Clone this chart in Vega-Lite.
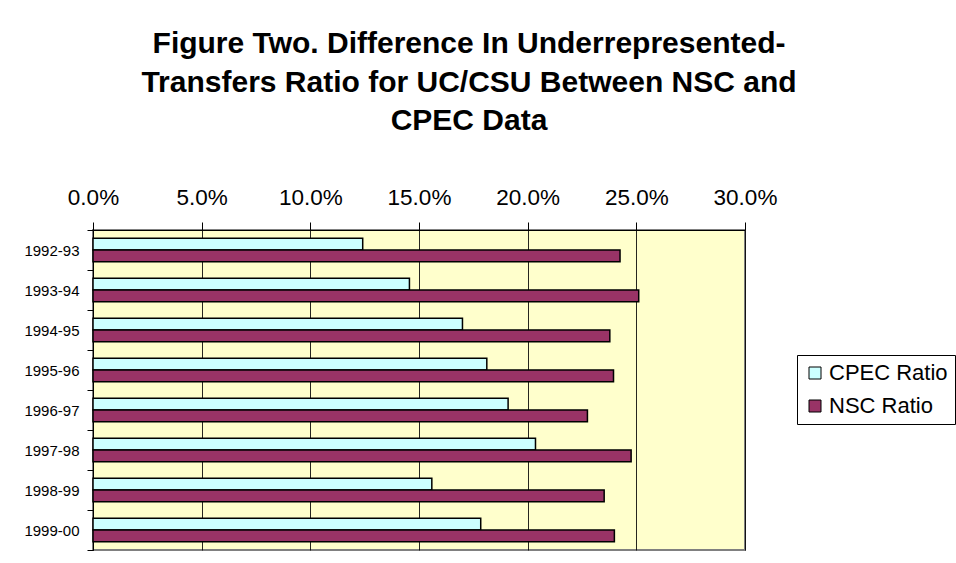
{
  "$schema": "https://vega.github.io/schema/vega-lite/v6.json",
  "width": 652,
  "height": 320,
  "autosize": {"type": "none"},
  "padding": {"left": 93, "top": 230, "right": 211, "bottom": 13},
  "background": "white",
  "title": {
    "text": ["Figure Two. Difference In Underrepresented-", "Transfers Ratio for UC/CSU Between NSC and", "CPEC Data"],
    "font": "Liberation Sans",
    "fontSize": 30,
    "fontWeight": "bold",
    "lineHeight": 38.4,
    "color": "black",
    "anchor": "middle",
    "dx": 50,
    "offset": 50
  },
  "data": {
    "values": [
      {"year": "1992-93", "series": "CPEC Ratio", "value": 0.1241},
      {"year": "1992-93", "series": "NSC Ratio", "value": 0.2425},
      {"year": "1993-94", "series": "CPEC Ratio", "value": 0.1456},
      {"year": "1993-94", "series": "NSC Ratio", "value": 0.2511},
      {"year": "1994-95", "series": "CPEC Ratio", "value": 0.1700},
      {"year": "1994-95", "series": "NSC Ratio", "value": 0.2378},
      {"year": "1995-96", "series": "CPEC Ratio", "value": 0.1812},
      {"year": "1995-96", "series": "NSC Ratio", "value": 0.2395},
      {"year": "1996-97", "series": "CPEC Ratio", "value": 0.1910},
      {"year": "1996-97", "series": "NSC Ratio", "value": 0.2275},
      {"year": "1997-98", "series": "CPEC Ratio", "value": 0.2036},
      {"year": "1997-98", "series": "NSC Ratio", "value": 0.2476},
      {"year": "1998-99", "series": "CPEC Ratio", "value": 0.1559},
      {"year": "1998-99", "series": "NSC Ratio", "value": 0.2352},
      {"year": "1999-00", "series": "CPEC Ratio", "value": 0.1784},
      {"year": "1999-00", "series": "NSC Ratio", "value": 0.2399}
    ]
  },
  "mark": {"type": "bar", "stroke": "black", "strokeWidth": 1.5, "opacity": 1},
  "encoding": {
    "y": {
      "field": "year",
      "type": "nominal",
      "sort": null,
      "scale": {"paddingInner": 0, "paddingOuter": 0},
      "axis": {
        "title": null,
        "tickBand": "extent",
        "domainColor": "black",
        "domainWidth": 1,
        "tickColor": "black",
        "tickSize": 6,
        "labelFont": "Liberation Sans",
        "labelFontSize": 15,
        "labelColor": "black",
        "labelPadding": 8,
        "grid": false
      }
    },
    "yOffset": {
      "field": "series",
      "type": "nominal",
      "sort": ["CPEC Ratio", "NSC Ratio"],
      "scale": {"paddingInner": 0, "paddingOuter": 0.71}
    },
    "x": {
      "field": "value",
      "type": "quantitative",
      "scale": {"domain": [0, 0.3], "nice": false, "zero": true},
      "axis": {
        "orient": "top",
        "title": null,
        "format": ".1%",
        "values": [0, 0.05, 0.1, 0.15, 0.2, 0.25, 0.3],
        "labelFlush": false,
        "labelOverlap": false,
        "grid": true,
        "gridColor": "black",
        "gridOpacity": 0.85,
        "gridWidth": 1,
        "domainColor": "black",
        "tickColor": "black",
        "tickSize": 8,
        "labelFont": "Liberation Sans",
        "labelFontSize": 22.5,
        "labelColor": "black",
        "labelPadding": 13
      }
    },
    "fill": {
      "field": "series",
      "type": "nominal",
      "scale": {"domain": ["CPEC Ratio", "NSC Ratio"], "range": ["#CCFFFF", "#993366"]},
      "legend": {
        "title": null,
        "orient": "none",
        "legendX": 704,
        "legendY": 125,
        "strokeColor": "black",
        "fillColor": "white",
        "padding": 7,
        "symbolType": "square",
        "symbolSize": 144,
        "symbolStrokeColor": "black",
        "symbolStrokeWidth": 1,
        "symbolOpacity": 1,
        "labelFont": "Liberation Sans",
        "labelFontSize": 22,
        "labelColor": "black",
        "labelOffset": 3,
        "rowPadding": 11
      }
    }
  },
  "config": {
    "view": {"fill": "#FFFFCC", "stroke": "#808080", "strokeWidth": 2}
  }
}
